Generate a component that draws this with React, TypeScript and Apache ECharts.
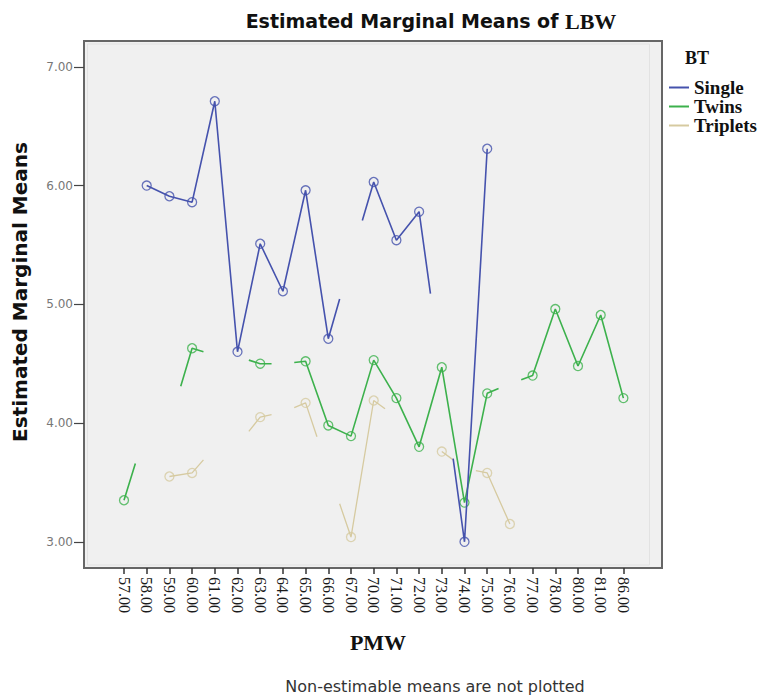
import React, { useEffect, useRef } from "react";
import * as echarts from "echarts";

// PMW categories (x axis tick labels)
const categories = [
  "57.00", "58.00", "59.00", "60.00", "61.00", "62.00", "63.00", "64.00", "65.00", "66.00", "67.00",
  "70.00", "71.00", "72.00", "73.00", "74.00", "75.00", "76.00", "77.00", "78.00", "80.00", "81.00", "86.00",
];

// Estimated marginal means of LBW per birth type (null = no mean)
const singleValues: (number | null)[] = [
  null, 6.0, 5.91, 5.86, 6.71, 4.6, 5.51, 5.11, 5.96, 4.71, 5.38,
  6.03, 5.54, 5.78, 4.4, 3.0, 6.31, null, null, null, null, null, null,
];
const singleEstimable = [
  false, true, true, true, true, true, true, true, true, true, false,
  true, true, true, false, true, true, false, false, false, false, false, false,
];

const twinsValues: (number | null)[] = [
  3.35, 3.97, 3.99, 4.63, 4.57, 4.56, 4.5, 4.5, 4.52, 3.98, 3.89,
  4.53, 4.21, 3.8, 4.47, 3.33, 4.25, 4.33, 4.4, 4.96, 4.48, 4.91, 4.21,
];
const twinsEstimable = [
  true, false, false, true, false, false, true, false, true, true, true,
  true, true, true, true, true, true, false, true, true, true, true, true,
];

const tripletsValues: (number | null)[] = [
  null, null, 3.55, 3.58, 3.8, 3.81, 4.05, 4.09, 4.17, 3.6, 3.04,
  4.19, 4.05, null, 3.76, 3.62, 3.58, 3.15, null, null, null, null, null,
];
const tripletsEstimable = [
  false, false, true, true, false, false, true, false, true, false, true,
  true, false, false, true, false, true, true, false, false, false, false, false,
];

const yTicks = [3, 4, 5, 6, 7];

const COLORS = { Single: "#4552ad", Twins: "#3cb14c", Triplets: "#d6caa0" };

function buildLine(values: (number | null)[], est: boolean[]) {
  const segs: number[][][] = [];
  for (let i = 0; i < values.length - 1; i++) {
    const a = values[i];
    const b = values[i + 1];
    if (a == null || b == null) continue;
    if (est[i] && est[i + 1]) segs.push([[i, a], [i + 1, b]]);
    else if (est[i]) segs.push([[i, a], [i + 0.5, (a + b) / 2]]);
    else if (est[i + 1]) segs.push([[i + 0.5, (a + b) / 2], [i + 1, b]]);
  }
  const data: any[] = [];
  let last: number[] | null = null;
  for (const s of segs) {
    if (last && last[0] === s[0][0] && last[1] === s[0][1]) {
      data.push(s[1]);
    } else {
      if (last) data.push([(last[0] + s[0][0]) / 2, "-"]);
      data.push(s[0], s[1]);
    }
    last = s[1];
  }
  return data;
}

function buildMarkers(values: (number | null)[], est: boolean[]) {
  const out: number[][] = [];
  values.forEach((v, i) => {
    if (v != null && est[i]) out.push([i, v]);
  });
  return out;
}

function makeSeries(name: string, values: (number | null)[], est: boolean[], color: string, z: number, width: number) {
  return [
    {
      type: "line",
      name,
      xAxisIndex: 0,
      yAxisIndex: 0,
      data: buildLine(values, est),
      showSymbol: false,
      symbol: "none",
      connectNulls: false,
      clip: false,
      z,
      itemStyle: { color },
      lineStyle: { color, width },
    },
    {
      type: "scatter",
      name,
      xAxisIndex: 0,
      yAxisIndex: 0,
      data: buildMarkers(values, est),
      symbol: "circle",
      symbolSize: 9,
      clip: false,
      z: z + 1,
      itemStyle: { color: "rgba(0,0,0,0)", borderColor: color, borderWidth: 1.3 },
    },
  ];
}

export default function App() {
  const ref = useRef<HTMLDivElement>(null);
  useEffect(() => {
    if (!ref.current) return;
    const chart = echarts.init(ref.current, undefined, { renderer: "svg" });
    const yMin = yTicks[0];
    const yMax = yTicks[yTicks.length - 1];
    const xMax = categories.length - 1;
    const option: any = {
      animation: false,
      backgroundColor: "#ffffff",
      grid: [
        // data area
        { left: 124, right: 135.6, top: 66.8, bottom: 153.2, containLabel: false },
        // y axis sitting on the frame's left edge
        { left: 84, right: 97, top: 66.8, bottom: 153.2, containLabel: false },
        // x axis sitting on the frame's bottom edge
        { left: 124, right: 135.6, top: 41, bottom: 127, containLabel: false },
      ],
      xAxis: [
        { type: "value", gridIndex: 0, show: false, min: 0, max: xMax },
        { type: "value", gridIndex: 1, show: false, min: 0, max: 1 },
        {
          type: "value",
          gridIndex: 2,
          min: 0,
          max: xMax,
          interval: 1,
          axisLine: { show: false },
          axisTick: { show: true, length: 6, lineStyle: { color: "#333", width: 1.5 } },
          splitLine: { show: false },
          axisLabel: {
            rotate: -90,
            margin: 9,
            color: "#1a1a1a",
            fontFamily: "Liberation Serif",
            fontSize: 16,
            formatter: (v: number) => categories[Math.round(v)] ?? "",
          },
        },
      ],
      yAxis: [
        { type: "value", gridIndex: 0, show: false, min: yMin, max: yMax },
        {
          type: "value",
          gridIndex: 1,
          min: yMin,
          max: yMax,
          interval: 1,
          axisLine: { show: false },
          axisTick: { show: true, length: 10, lineStyle: { color: "#444", width: 1.2 } },
          splitLine: { show: false },
          axisLabel: {
            margin: 11,
            color: "#777",
            fontFamily: "DejaVu Sans",
            fontSize: 12,
            formatter: (v: number) => v.toFixed(2),
          },
        },
        { type: "value", gridIndex: 2, show: false, min: 0, max: 1 },
      ],
      legend: {
        orient: "vertical",
        left: 664,
        top: 73,
        itemWidth: 20,
        itemHeight: 2,
        itemGap: 0,
        icon: "rect",
        data: ["Single", "Twins", "Triplets"],
        textStyle: {
          fontFamily: "Liberation Serif",
          fontWeight: "bold",
          fontSize: 19,
          lineHeight: 18,
          color: "#111",
        },
      },
      graphic: [
        {
          type: "rect",
          z: -10,
          shape: { x: 84, y: 41, width: 578, height: 527 },
          style: { fill: "#f0f0f0", stroke: "#666", lineWidth: 2 },
        },
        {
          type: "rect",
          z: -9,
          shape: { x: 87.5, y: 44, width: 562, height: 521 },
          style: { fill: "none", stroke: "#e2e2e2", lineWidth: 1 },
        },
        {
          type: "text",
          x: 431,
          y: 21,
          style: {
            text: "{a|Estimated Marginal Means of }{b|LBW}",
            align: "center",
            verticalAlign: "middle",
            textAlign: "center",
            textVerticalAlign: "middle",
            rich: {
              a: { fontFamily: "DejaVu Sans", fontWeight: "bold", fontSize: 19, fill: "#111" },
              b: { fontFamily: "Liberation Serif", fontWeight: "bold", fontSize: 22, fill: "#111" },
            },
          },
        },
        {
          type: "text",
          x: 20,
          y: 292,
          rotation: Math.PI / 2,
          style: {
            text: "Estimated Marginal Means",
            fontFamily: "DejaVu Sans",
            fontWeight: "bold",
            fontSize: 20,
            fill: "#111",
            align: "center",
            verticalAlign: "middle",
            textAlign: "center",
            textVerticalAlign: "middle",
          },
        },
        {
          type: "text",
          x: 378,
          y: 642,
          style: {
            text: "PMW",
            fontFamily: "Liberation Serif",
            fontWeight: "bold",
            fontSize: 22,
            fill: "#111",
            align: "center",
            verticalAlign: "middle",
            textAlign: "center",
            textVerticalAlign: "middle",
          },
        },
        {
          type: "text",
          x: 435,
          y: 686,
          style: {
            text: "Non-estimable means are not plotted",
            fontFamily: "DejaVu Sans",
            fontSize: 16,
            fill: "#333",
            align: "center",
            verticalAlign: "middle",
            textAlign: "center",
            textVerticalAlign: "middle",
          },
        },
        {
          type: "text",
          x: 685,
          y: 58,
          style: {
            text: "BT",
            fontFamily: "Liberation Serif",
            fontWeight: "bold",
            fontSize: 18,
            fill: "#111",
            align: "left",
            verticalAlign: "middle",
            textAlign: "left",
            textVerticalAlign: "middle",
          },
        },
      ],
      series: [
        ...makeSeries("Single", singleValues, singleEstimable, COLORS.Single, 6, 1.6),
        ...makeSeries("Twins", twinsValues, twinsEstimable, COLORS.Twins, 4, 1.6),
        ...makeSeries("Triplets", tripletsValues, tripletsEstimable, COLORS.Triplets, 2, 1.3),
      ],
    };
    chart.setOption(option);
    return () => chart.dispose();
  }, []);
  return (
    <div
      ref={ref}
      style={{ position: "fixed", left: 0, top: 0, width: 759, height: 695 }}
    />
  );
}
